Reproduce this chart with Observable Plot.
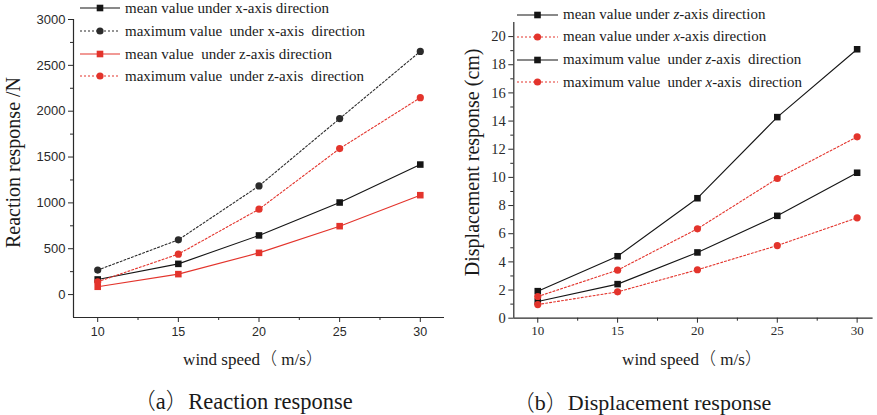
<!DOCTYPE html>
<html>
<head>
<meta charset="utf-8">
<script src="https://cdn.jsdelivr.net/npm/d3@7"></script>
<script src="https://cdn.jsdelivr.net/npm/@observablehq/plot@0.6"></script>
<style>
  html, body { margin: 0; padding: 0; background: #fff; overflow: hidden; }
  #root { position: relative; width: 877px; height: 415px; }
  .panel { position: absolute; top: 0; }
  .legend { position: absolute; font-family: "Liberation Serif", "Times New Roman", Tinos, "DejaVu Serif", serif; font-size: 15px; color: #1a1a1a; }
  .legend .row { position: absolute; left: 0; height: 16px; display: flex; align-items: center; white-space: pre; }
  .legend .row svg { margin-right: 5px; }
  .caption { position: absolute; font-size: 22px; line-height: 1.5; padding: 0 4px; color: #1a1a1a; transform: translate(-50%, -50%); white-space: pre; }
  .serif { font-family: "Liberation Serif", "Times New Roman", Tinos, "DejaVu Serif", serif; }
  .cjk { font-family: "Noto Sans CJK SC", sans-serif; font-weight: 300; }
</style>
</head>
<body>
<div id="root"></div>
<script>
// ---------- data ----------
const speeds = [10, 15, 20, 25, 30];

// (a) Reaction response /N
const reactMeanX = [165, 335, 645, 1004, 1418];
const reactMaxX  = [267, 597, 1185, 1919, 2652];
const reactMeanZ = [85, 223, 455, 746, 1084];
const reactMaxZ  = [140, 441, 931, 1592, 2147];

// (b) Displacement response (cm)
const dispMeanZ = [1.19, 2.42, 4.67, 7.27, 10.33];
const dispMeanX = [0.97, 1.87, 3.44, 5.16, 7.13];
const dispMaxZ  = [1.92, 4.40, 8.52, 14.28, 19.10];
const dispMaxX  = [1.54, 3.41, 6.35, 9.92, 12.88];

// tick labels
const xTicks = [10, 15, 20, 25, 30];
const xMinor = [12.5, 17.5, 22.5, 27.5];
const reactYTicks = [0, 500, 1000, 1500, 2000, 2500, 3000];
const reactYMinor = [250, 750, 1250, 1750, 2250, 2750];
const dispYTicks = [0, 2, 4, 6, 8, 10, 12, 14, 16, 18, 20];
const dispYMinor = [1, 3, 5, 7, 9, 11, 13, 15, 17, 19];

// text
const xTitle = "wind speed\uFF08 m/s\uFF09";
const reactYTitle = "Reaction response /N";
const dispYTitle = "Displacement response (cm)";
const captionA = "\uFF08a\uFF09Reaction response";
const captionB = "\uFF08b\uFF09Displacement response";

const BLACK = "#151515";
const RED = "#e3342c";
const AXIS = "#2a2a2a";
const SERIF = "Liberation Serif, Times New Roman, Tinos, DejaVu Serif, serif";
const SANS = "Liberation Sans, Arial, sans-serif";

const reactSeries = [
  {label: "mean value under x-axis direction", values: reactMeanX, color: BLACK, dash: null, symbol: "square"},
  {label: "maximum value  under x-axis  direction", values: reactMaxX, color: "#2b2b2b", dash: "2,2", symbol: "circle"},
  {label: "mean value  under z-axis direction", values: reactMeanZ, color: RED, dash: null, symbol: "square"},
  {label: "maximum value  under z-axis  direction", values: reactMaxZ, color: RED, dash: "2,2", symbol: "circle"}
];
const dispSeries = [
  {label: "mean value under <i>z</i>-axis direction", values: dispMeanZ, color: BLACK, dash: null, symbol: "square"},
  {label: "mean value under <i>x</i>-axis direction", values: dispMeanX, color: RED, dash: "2,2", symbol: "circle"},
  {label: "maximum value  under <i>z</i>-axis  direction", values: dispMaxZ, color: BLACK, dash: null, symbol: "square"},
  {label: "maximum value  under <i>x</i>-axis  direction", values: dispMaxX, color: RED, dash: "2,2", symbol: "circle"}
];

function seriesMarks(series) {
  const marks = [];
  for (const s of series) {
    const rows = speeds.map((x, i) => ({x, y: s.values[i]}));
    marks.push(Plot.line(rows, {x: "x", y: "y", stroke: s.color, strokeWidth: 1.1, strokeDasharray: s.dash || undefined}));
    marks.push(Plot.dot(rows, {x: "x", y: "y", symbol: s.symbol, r: s.symbol === "square" ? 3.7 : 3.6, fill: s.color, stroke: "none"}));
  }
  return marks;
}

function panel(cfg) {
  const [x0, x1] = cfg.xDomain;
  const [y0, y1] = cfg.yDomain;
  return Plot.plot({
    width: cfg.width,
    height: 375,
    marginLeft: cfg.marginLeft,
    marginRight: cfg.marginRight,
    marginTop: cfg.marginTop,
    marginBottom: cfg.marginBottom,
    x: {domain: cfg.xDomain},
    y: {domain: cfg.yDomain},
    style: {background: "transparent", overflow: "visible"},
    marks: [
      Plot.ruleX([x0], {y1: y0, y2: y1, stroke: AXIS, strokeWidth: 1.2}),
      Plot.ruleY([y0], {x1: x0, x2: x1, stroke: AXIS, strokeWidth: 1.2}),
      Plot.axisY(cfg.yTicks, {tickSize: 5, tickPadding: 3, tickFormat: d => String(d), fontSize: cfg.yTickFont, fontFamily: cfg.tickFamily, color: AXIS, label: null}),
      Plot.axisY(cfg.yMinor, {tickSize: 3, tickFormat: () => "", color: AXIS, label: null}),
      Plot.axisX(xTicks, {tickSize: 5, tickPadding: cfg.xTickPad, tickFormat: d => String(d), fontSize: cfg.xTickFont, fontFamily: cfg.tickFamily, color: AXIS, label: null}),
      Plot.axisX(xMinor, {tickSize: 3, tickFormat: () => "", color: AXIS, label: null}),
      ...seriesMarks(cfg.series),
      Plot.text([cfg.yTitle], {text: d => d, frameAnchor: "left", textAnchor: "middle", lineAnchor: "middle", rotate: -90, dx: cfg.yTitleDx, dy: cfg.yTitleDy, fontSize: 20, fontFamily: SERIF, fill: "#1a1a1a"})
    ]
  });
}

function legend(series, left, tops, swatchW) {
  const div = document.createElement("div");
  div.className = "legend";
  div.style.left = left + "px";
  div.style.top = "0px";
  series.forEach((s, i) => {
    const row = document.createElement("div");
    row.className = "row";
    row.style.top = (tops[i] - 8) + "px";
    const mid = swatchW / 2;
    const marker = s.symbol === "square"
      ? `<rect x="${mid - 3.3}" y="1.7" width="6.6" height="6.6" fill="${s.color}"/>`
      : `<circle cx="${mid}" cy="5" r="3.6" fill="${s.color}"/>`;
    row.innerHTML = `<svg width="${swatchW}" height="10"><line x1="0" x2="${swatchW}" y1="5" y2="5" stroke="${s.color}" stroke-width="1.1" ${s.dash ? `stroke-dasharray="${s.dash}"` : ""}/>${marker}</svg><span>${s.label}</span>`;
    div.appendChild(row);
  });
  return div;
}

// wrap full-width punctuation in a CJK span, the rest in serif
function mixedText(text) {
  return text.split(/([\uFF08\uFF09])/).filter(t => t.length).map(t =>
    /[\uFF08\uFF09]/.test(t) ? `<span class="cjk">${t}</span>` : `<span class="serif">${t}</span>`
  ).join("");
}

const root = document.getElementById("root");

const left = panel({
  width: 446, marginLeft: 73, marginRight: 2, marginTop: 19, marginBottom: 58,
  xDomain: [8.5, 31.5], yDomain: [-250, 3000],
  yTicks: reactYTicks, yMinor: reactYMinor,
  tickFamily: SANS, yTickFont: 13, xTickFont: 12.5, xTickPad: 5,
  series: reactSeries,
  yTitle: reactYTitle, yTitleDx: -59.5, yTitleDy: -6
});
left.classList.add("panel");
left.style.left = "0px";
root.appendChild(left);

const right = panel({
  width: 437, marginLeft: 73.3, marginRight: 4.4, marginTop: 22, marginBottom: 57.3,
  xDomain: [8.5, 31], yDomain: [0, 21],
  yTicks: dispYTicks, yMinor: dispYMinor,
  tickFamily: SERIF, yTickFont: 14.5, xTickFont: 13, xTickPad: 3,
  series: dispSeries,
  yTitle: dispYTitle, yTitleDx: -41, yTitleDy: -8
});
right.classList.add("panel");
right.style.left = "440px";
root.appendChild(right);

root.appendChild(legend(reactSeries, 80, [8, 31, 54, 76], 40));
root.appendChild(legend(dispSeries, 517, [14.7, 36.7, 59.7, 82], 41));

// x-axis titles and captions
for (const [text, cx, cy, size] of [[xTitle, 253, 359, 17], [xTitle, 692, 359, 17], [captionA, 243, 401, 22.5], [captionB, 642, 401, 22]]) {
  const c = document.createElement("div");
  c.className = "caption";
  c.innerHTML = mixedText(text);
  c.style.left = cx + "px";
  c.style.top = cy + "px";
  c.style.fontSize = size + "px";
  root.appendChild(c);
}
</script>
</body>
</html>
